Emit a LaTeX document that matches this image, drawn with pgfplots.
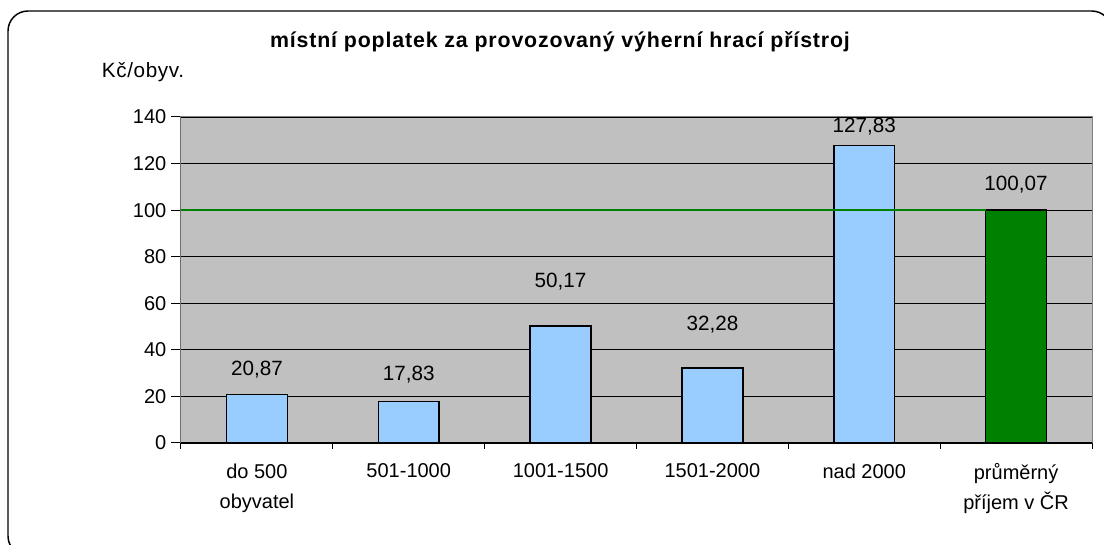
\documentclass[border=0pt]{standalone}
\usepackage{pgfplots}
\pgfplotsset{compat=1.18}
\usepackage{pgfplotstable}
\usepackage{fontspec}
\setmainfont{Liberation Sans}
\newfontfamily\titlefont{Liberation Sans}[LetterSpace=4]
\newfontfamily\unitfont{Liberation Sans}[LetterSpace=3]

\definecolor{plotgray}{HTML}{C0C0C0}
\definecolor{barblue}{HTML}{99CCFF}
\definecolor{avggreen}{HTML}{008000}

% x = category, y = value, off = label offset above bar top (pt)
\pgfplotstableread{
x y off
0 20.87 18.3
1 17.83 19.9
2 50.17 33.2
3 32.28 32.1
4 127.83 13.7
}\skupiny
\pgfplotstableread{
x y off
5 100.07 18.7
}\prumer

\pgfplotsset{
  barlabels/.style={
    ybar, bar width=0.4, bar shift=0pt,
    nodes near coords,
    visualization depends on={\thisrow{off} \as \myoff},
    every node near coord/.append style={
      font=\fontsize{15.5}{18}\selectfont,
      /pgf/number format/fixed,
      /pgf/number format/precision=2,
      /pgf/number format/fixed zerofill,
      /pgf/number format/use comma,
      /pgf/number format/assume math mode=true,
      anchor=center, yshift=\myoff pt},
  },
}

\begin{document}
\begin{tikzpicture}
  % page = 1104 x 545 px at 0.75pt per px, plot origin at px (181,443)
  \useasboundingbox (-135.75pt,-76.5pt) rectangle (692.25pt,332.25pt);
  \draw[line width=1.1pt, rounded corners=15pt] (-129.75pt,324pt) rectangle (698pt,-84.75pt);

  \begin{axis}[
      at={(0,0)}, anchor=south west,
      scale only axis,
      width=683.25pt, height=244.5pt,
      xmin=-0.5, xmax=5.5,
      ymin=0, ymax=140,
      ytick={0,20,...,140},
      xtick={0,...,5},
      xticklabels={{do 500\\obyvatel},501-1000,1001-1500,1501-2000,nad 2000,{průměrný\\příjem v ČR}},
      minor xtick={-0.5,0.5,...,5.5},
      major x tick style={draw=none},
      tick pos=left,
      tick align=outside,
      major tick length=7.5pt,
      minor tick length=4.5pt,
      tick style={black, line width=0.75pt},
      axis line style={draw=gray, line width=0.75pt},
      ymajorgrids,
      grid style={black, line width=0.6pt},
      axis background/.style={fill=plotgray},
      ticklabel style={font=\fontsize{15}{22.5}\selectfont},
      xticklabel style={align=center, yshift=-4.5pt},
      /pgf/number format/assume math mode=true,
    ]
    \addplot[barlabels, fill=barblue, draw=black, line width=1.1pt] table[x=x, y=y] {\skupiny};
    \addplot[barlabels, fill=avggreen, draw=black, line width=1.1pt] table[x=x, y=y] {\prumer};
    % reference line at 100 up to the average bar
    \addplot[sharp plot, no markers, draw=avggreen, line width=1.7pt]
      coordinates {(-0.566,100) (4.8,100)};
    \draw[black, line width=0.75pt] (rel axis cs:0,1) -- (rel axis cs:0,0) -- (rel axis cs:1,0);
  \end{axis}

  \node[font=\titlefont\bfseries\fontsize{16}{19}\selectfont] at (284.25pt,300.75pt)
    {místní poplatek za provozovaný výherní hrací přístroj};
  \node[font=\unitfont\fontsize{15.5}{18}\selectfont] at (-28.5pt,278.25pt) {Kč/obyv.};
\end{tikzpicture}
\end{document}
